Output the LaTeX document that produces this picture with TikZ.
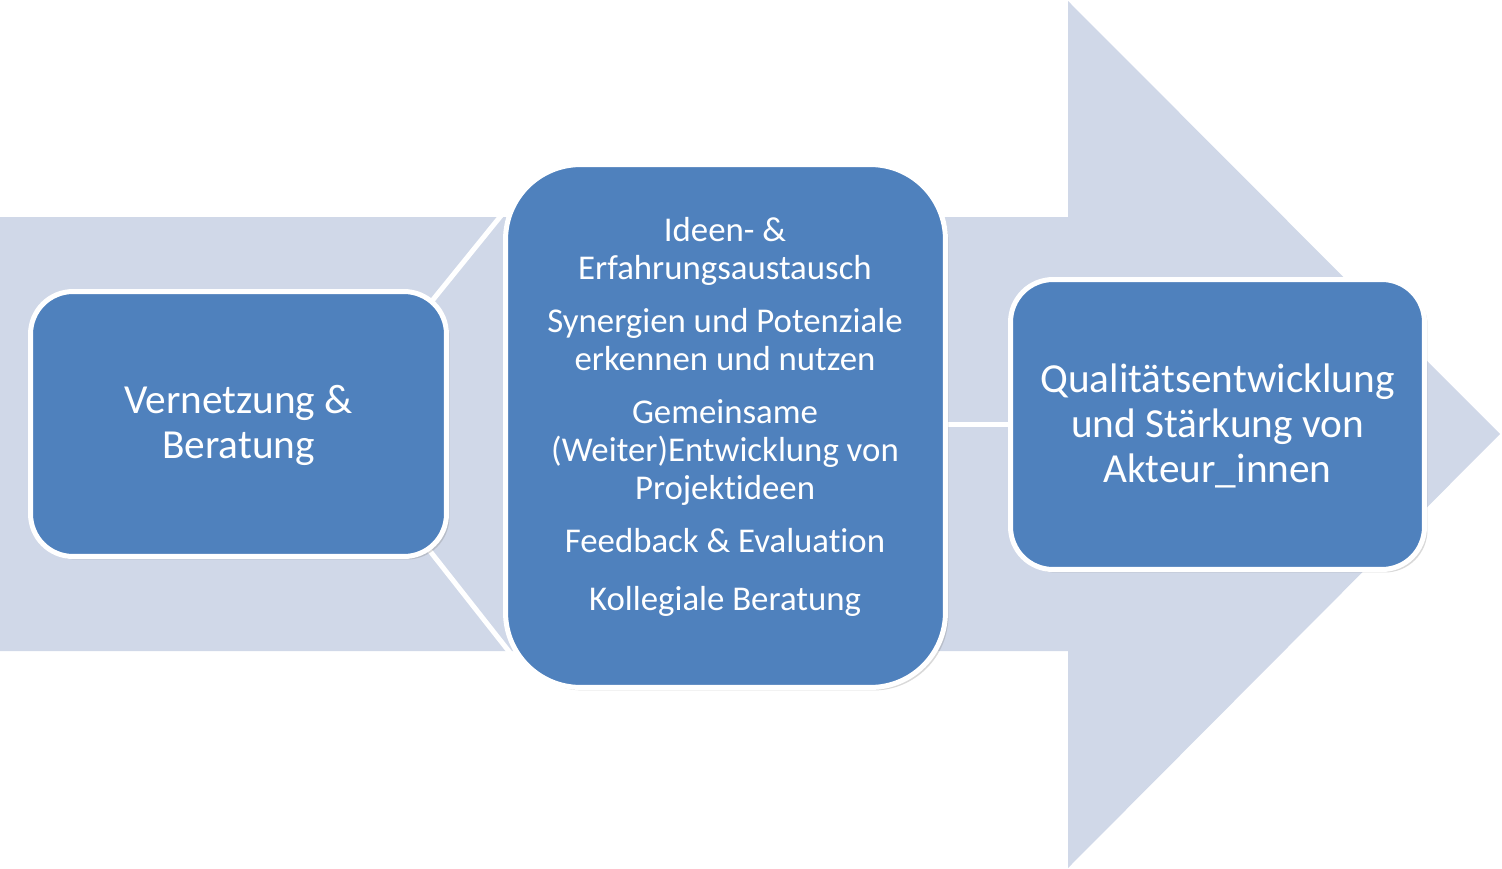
\documentclass[tikz,border=0pt]{standalone}
\usepackage{fontspec}
\setmainfont{Carlito}[Ligatures=NoCommon]
\usetikzlibrary{shadows}
\definecolor{kastenblau}{HTML}{4F81BD}
\definecolor{pfeilgrau}{HTML}{D0D8E8}
\pgfdeclarelayer{hinten}
\pgfdeclarelayer{mitte}
\pgfsetlayers{hinten,mitte,main}
\tikzset{
  kasten/.style={draw=white, line width=0.1cm, fill=kastenblau, text=white,
    align=center, rounded corners=0.85cm,
    drop shadow={shadow xshift=0.06cm, shadow yshift=-0.06cm, opacity=0.3}},
  verbindung/.style={draw=white, line width=0.1cm},
  grosstext/.style={font=\fontsize{23.5}{25.6}\selectfont},
  kleintext/.style={font=\fontsize{19.8}{21.6}\selectfont}
}
\begin{document}
\begin{tikzpicture}[x=0.02cm, y=-0.02cm]
    \useasboundingbox (0,0) rectangle (1502,869);

    % Kaesten
    \node[kasten, grosstext, minimum width=8.32cm, minimum height=5.3cm, text depth=0.1cm] (vernetzung) at (238.5, 424) {Vernetzung \&\\Beratung};
    \node[kasten, minimum width=8.8cm, minimum height=10.46cm, rounded corners=1.5cm] (angebote) at (725.5, 426) {};
    \node[kleintext, text=white, align=center] (angebotetext) at (725, 417) {Ideen- \&\\Erfahrungsaustausch\\[0.3cm]
        Synergien und Potenziale\\erkennen und nutzen\\[0.3cm]
        Gemeinsame\\(Weiter)Entwicklung von\\Projektideen\\[0.3cm]
        Feedback \& Evaluation\\[0.4cm]
        Kollegiale Beratung};
    \node[kasten, grosstext, minimum width=8.28cm, minimum height=5.8cm, text depth=0.05cm] (qualitaet) at (1217.5, 424.5) {Qualitätsentwicklung\\und Stärkung von\\Akteur\_innen};

    % Pfeil
    \begin{pgfonlayer}{hinten}
        \fill[pfeilgrau] (0,217) -- (1068,217) -- (1068,1) -- (1500,434) -- (1068,868) -- (1068,651) -- (0,651) -- cycle;
    \end{pgfonlayer}

    % Verbindungen
    \begin{pgfonlayer}{mitte}
        \draw[verbindung] ([shift={(-30,28)}]vernetzung.north east) -- ([shift={(9,40)}]angebote.north west);
        \draw[verbindung] ([shift={(-34,-27)}]vernetzung.south east) -- ([shift={(15,-27)}]angebote.south west);
        \draw[verbindung] (qualitaet.west) -- (angebote.east |- qualitaet.west);
    \end{pgfonlayer}

\end{tikzpicture}
\end{document}
